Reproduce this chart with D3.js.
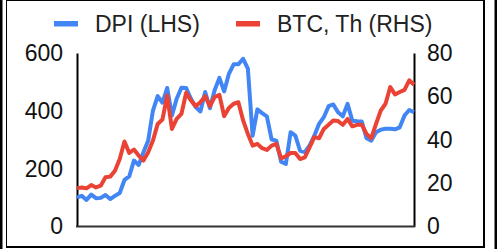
<!DOCTYPE html>
<html><head><meta charset="utf-8">
<script src="https://cdn.jsdelivr.net/npm/d3@7"></script>
<style>html,body{margin:0;padding:0;background:#fff}svg{display:block}</style>
</head><body><svg id="c" width="498" height="249"></svg>
<script>
const seriesNames = ["DPI (LHS)", "BTC, Th (RHS)"];
const dpi = [101,106,92,110,98,99,109,95,106,116,161,173,228,213,257,297,401,451,428,479,384,442,480,479,442,413,398,465,409,471,514,467,528,561,561,580,546,314,405,392,381,301,297,224,216,326,314,262,257,280,314,355,378,416,422,395,381,424,366,364,363,305,297,326,335,338,338,336,343,384,403,395];
const btc = [17.7,18.0,17.6,19.1,18.0,18.8,22.7,23.0,25.7,31.1,39.2,33.9,35.5,32.7,30.4,34.2,39.6,47.3,49.3,60.4,45.0,49.6,51.9,61.7,58.1,55.5,57.3,60.1,55.5,59.7,60.7,50.9,54.6,56.6,57.3,48.9,42.7,37.3,38.1,36.1,35.3,37.3,38.1,31.4,32.4,33.9,33.9,31.1,31.9,36.5,41.2,40.7,45.0,46.9,48.9,48.6,46.9,49.6,46.2,46.9,46.9,42.7,40.7,47.3,53.5,56.6,64.3,60.9,62.0,63.0,67.4,65.4];
const leftTicks = [0,200,400,600];
const rightTicks = [0,20,40,60,80];
const colors = ["#4285F4", "#EA4335"];

const svg = d3.select("#c");
const font = "'Liberation Sans', Arial, sans-serif";
const fs = 23;
const L = 77, R = 414, T = 53, B = 226.5;

// frame
svg.append("rect").attr("x",0).attr("y",0).attr("width",2.5).attr("height",249).attr("fill","#000");
svg.append("rect").attr("x",494.5).attr("y",0).attr("width",2.5).attr("height",249).attr("fill","#000");
svg.append("line").attr("x1",6.5).attr("x2",6.5).attr("y1",0).attr("y2",248).attr("stroke","#000").attr("stroke-width",1);
svg.append("line").attr("x1",6).attr("x2",485).attr("y1",0.5).attr("y2",0.5).attr("stroke","#000").attr("stroke-width",1);
svg.append("line").attr("x1",484).attr("x2",484).attr("y1",0).attr("y2",248).attr("stroke","#000").attr("stroke-width",2);
svg.append("line").attr("x1",6).attr("x2",485).attr("y1",247).attr("y2",247).attr("stroke","#000").attr("stroke-width",2);

const x = d3.scaleLinear().domain([0, dpi.length-1]).range([L, R]);
const yL = d3.scaleLinear().domain([0,600]).range([B, T]);
const yR = d3.scaleLinear().domain([0,80]).range([B, T]);

// axes
const axL = svg.append("g").attr("transform",`translate(${L},0)`).call(d3.axisLeft(yL).tickValues(leftTicks).tickSize(0).tickPadding(14));
const axR = svg.append("g").attr("transform",`translate(${R},0)`).call(d3.axisRight(yR).tickValues(rightTicks).tickSize(0).tickPadding(13));
[axL, axR].forEach(a => {
  a.select(".domain").attr("stroke","#000").attr("stroke-width",2);
  a.selectAll("text").attr("font-family",font).attr("font-size",fs).attr("fill","#111");
});
svg.append("line").attr("x1",L-1).attr("x2",R+1).attr("y1",B).attr("y2",B).attr("stroke","#333").attr("stroke-width",2);

// lines
const lineL = d3.line().x((d,i)=>x(i)).y(d=>yL(d));
const lineR = d3.line().x((d,i)=>x(i)).y(d=>yR(d));
svg.append("path").attr("d", lineL(dpi)).attr("fill","none").attr("stroke",colors[0]).attr("stroke-width",4).attr("stroke-linejoin","round");
svg.append("path").attr("d", lineR(btc)).attr("fill","none").attr("stroke",colors[1]).attr("stroke-width",4).attr("stroke-linejoin","round");

// legend
const legX = [54, 236];
seriesNames.forEach((n,i) => {
  svg.append("rect").attr("x",legX[i]).attr("y",21).attr("width",24).attr("height",5.5).attr("fill",colors[i]);
  svg.append("text").attr("x",legX[i]+41).attr("y",32).attr("font-family",font).attr("font-size",fs).attr("fill","#222").text(n);
});
</script></body></html>
